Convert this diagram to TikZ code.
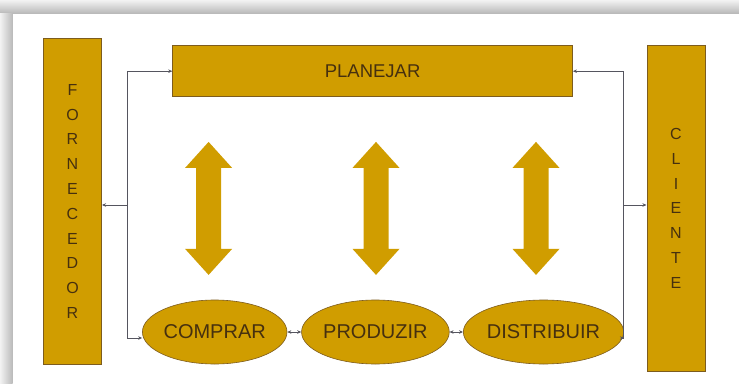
\documentclass[tikz,border=0pt]{standalone}
\usepackage{fontspec}
\setmainfont{Liberation Sans}
\usetikzlibrary{shapes.geometric,arrows.meta}

\definecolor{ouro}{RGB}{208,157,0}
\definecolor{borda}{RGB}{125,92,30}
\definecolor{texto}{RGB}{70,48,15}
\definecolor{linha}{RGB}{85,85,95}

\tikzset{
  caixa/.style={draw=borda, line width=0.6pt, fill=ouro, text=texto, inner sep=0pt},
  etapa/.style={caixa, ellipse, minimum width=122pt, minimum height=64pt,
    font=\fontsize{20}{22}\selectfont},
  coluna/.style={caixa, minimum width=58.4pt, minimum height=326pt, align=center,
    font=\fontsize{16}{24.8}\selectfont},
  setadupla/.pic={
    \fill[ouro] (0,-66.5) -- (23.5,-40.5) -- (12.5,-40.5) -- (12.5,40.5)
      -- (23.5,40.5) -- (0,66.5) -- (-23.5,40.5) -- (-12.5,40.5)
      -- (-12.5,-40.5) -- (-23.5,-40.5) -- cycle;
  },
  conn/.style={draw=linha, line width=0.7pt, -{Stealth[length=4pt,width=3.5pt]}},
  conn2/.style={draw=linha, line width=0.7pt,
    {Stealth[length=4pt,width=3.5pt]}-{Stealth[length=4pt,width=3.5pt]}}
}

\begin{document}
\begin{tikzpicture}[x=1pt, y=-1pt]
    \useasboundingbox (0,0) rectangle (739,383);

    % moldura
    \fill[white] (0,0) rectangle (739,383);
    \shade[top color=gray!10, bottom color=gray!55] (0,0) rectangle (739,13.3);
    \shade[left color=gray!10, right color=gray!55] (0,13.3) rectangle (12.7,383);

    % blocos
    \node[coluna] (forn) at (72.5,201.3) {F\\O\\R\\N\\E\\C\\E\\D\\O\\R};
    \node[coluna, minimum height=326.7pt] (cli) at (676,208.4) {C\\L\\I\\E\\N\\T\\E};
    \node[caixa, minimum width=400pt, minimum height=51pt,
      font=\fontsize{18.5}{20}\selectfont] (plan) at (372.6,71.2) {PLANEJAR};

    \node[etapa] (compra) at (214.7,332) {COMPRAR};
    \node[etapa] (produz) at (375.4,332) {PRODUZIR};
    \node[etapa] (distr) at (543.5,332) {DISTRIBUIR};

    % setas duplas
    \pic at (208.6,208.4) {setadupla};
    \pic at (376,208.4) {setadupla};
    \pic at (536,208.4) {setadupla};

    % ligacoes
    \coordinate (lj) at (127.7,205);
    \coordinate (rj) at (623.5,205);
    \draw[conn] (lj) |- (plan.west);
    \draw[conn] (lj) |- ([yshift=-6pt]compra.west);
    \draw[conn] (lj) -- (lj -| forn.east);
    \draw[conn] (rj) |- (plan.east);
    \draw[conn] (rj) -- (rj -| cli.west);
    \draw[conn] (rj) |- ([yshift=-6pt]distr.east);
    \draw[conn2] (compra) -- (produz);
    \draw[conn2] (produz) -- (distr);
\end{tikzpicture}
\end{document}
